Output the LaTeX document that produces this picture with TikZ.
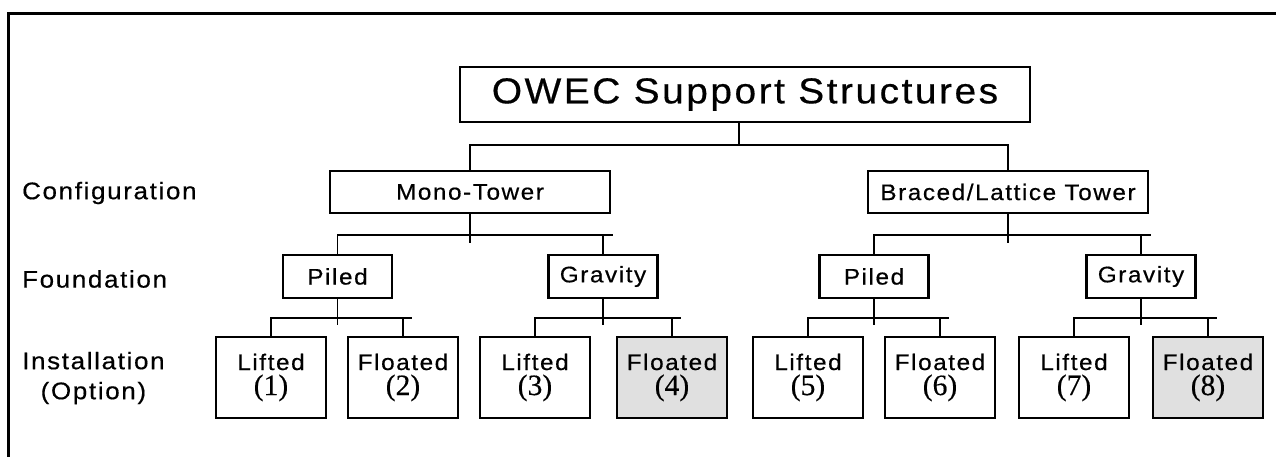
\documentclass[tikz,border=0pt]{standalone}
\usepackage{fontspec}
\newfontfamily\hel[LetterSpace=7,FakeStretch=1.08,FakeBold=0.5]{Liberation Sans}
\newfontfamily\tms[FakeBold=0.4]{Liberation Serif}
\newcommand{\optnum}[1]{{\tms\fontsize{29.5}{29.5}\selectfont (#1)}}
\begin{document}
\begin{tikzpicture}[x=1pt,y=-1pt,
  lvl/.style={draw, line width=2.5pt, inner sep=0pt, align=center, font=\hel\fontsize{22.5}{24}\selectfont},
  titlebox/.style={lvl, line width=2pt, minimum width=570pt, minimum height=55pt, font=\hel\fontsize{36}{38}\selectfont},
  cfgbox/.style={lvl, minimum width=280pt, minimum height=42pt, font=\hel\fontsize{22.5}{24}\selectfont},
  fndbox/.style={lvl, minimum width=109pt, minimum height=43pt},
  optbox/.style={lvl, line width=2.8pt, minimum width=110pt, minimum height=81pt},
  shaded/.style={fill=black!12},
  conn/.style={line width=1.5pt},
  rowlabel/.style={anchor=west, inner sep=0pt, align=center, font=\hel\fontsize{24}{30}\selectfont},
]
\useasboundingbox (0,0) rectangle (1276,457);
\draw[line width=3pt] (8.5,470) -- (8.5,13.5) -- (1290,13.5);

% row labels
\node[rowlabel] (lcfg) at (22,193) {Configuration};
\node[rowlabel] (lfnd) at (22,279) {Foundation};
\node[rowlabel] (lopt) at (22,378) {Installation\\(Option)};

% title
\node[titlebox] (title) at (745,94.5) {OWEC Support Structures};

% configuration
\node[cfgbox] (mono) at (470,192) {Mono-Tower};
\node[cfgbox] (brac) at (1008,192) {Braced/Lattice Tower};

% foundation
\node[fndbox] (p1) at (337.5,276.5) {Piled};
\node[fndbox] (g1) at (603,276.5) {Gravity};
\node[fndbox] (p2) at (874,276.5) {Piled};
\node[fndbox] (g2) at (1141,276.5) {Gravity};

% installation options
\node[optbox] (o1) at (271,377.5) {Lifted\\[1pt]\optnum{1}};
\node[optbox] (o2) at (403,377.5) {Floated\\[1pt]\optnum{2}};
\node[optbox] (o3) at (535,377.5) {Lifted\\[1pt]\optnum{3}};
\node[optbox,shaded] (o4) at (672,377.5) {Floated\\[1pt]\optnum{4}};
\node[optbox] (o5) at (808,377.5) {Lifted\\[1pt]\optnum{5}};
\node[optbox] (o6) at (940,377.5) {Floated\\[1pt]\optnum{6}};
\node[optbox] (o7) at (1074,377.5) {Lifted\\[1pt]\optnum{7}};
\node[optbox,shaded] (o8) at (1208,377.5) {Floated\\[1pt]\optnum{8}};

% connectors: title level
\coordinate (tb) at (739,145);
\draw[conn] (title.south -| tb) -- (tb);
\draw[conn] (mono.north) -- (mono.north |- tb) -- (brac.north |- tb) -- (brac.north);

% configuration -> foundation
\coordinate (mb) at (470,235);
\coordinate (mbx) at (613,235);
\draw[conn] (mono.south) -- (470,243);
\draw[conn] (p1.north) -- (p1.north |- mb) -- (mbx);
\draw[conn] (g1.north) -- (g1.north |- mb);
\coordinate (bb) at (1008,235);
\coordinate (bbx) at (1151,235);
\draw[conn] (brac.south) -- (1008,243);
\draw[conn] (p2.north) -- (p2.north |- bb) -- (bbx);
\draw[conn] (g2.north) -- (g2.north |- bb);

% foundation -> options
\coordinate (f1) at (337.5,318);
\coordinate (f1x) at (412,318);
\draw[conn] (p1.south) -- (337.5,325);
\draw[conn] (o1.north) -- (o1.north |- f1) -- (f1x);
\draw[conn] (o2.north) -- (o2.north |- f1);
\coordinate (f2) at (603,318);
\coordinate (f2x) at (681,318);
\draw[conn] (g1.south) -- (603,325);
\draw[conn] (o3.north) -- (o3.north |- f2) -- (f2x);
\draw[conn] (o4.north) -- (o4.north |- f2);
\coordinate (f3) at (874,318);
\coordinate (f3x) at (949,318);
\draw[conn] (p2.south) -- (874,325);
\draw[conn] (o5.north) -- (o5.north |- f3) -- (f3x);
\draw[conn] (o6.north) -- (o6.north |- f3);
\coordinate (f4) at (1141,318);
\coordinate (f4x) at (1217,318);
\draw[conn] (g2.south) -- (1141,325);
\draw[conn] (o7.north) -- (o7.north |- f4) -- (f4x);
\draw[conn] (o8.north) -- (o8.north |- f4);
\end{tikzpicture}
\end{document}
